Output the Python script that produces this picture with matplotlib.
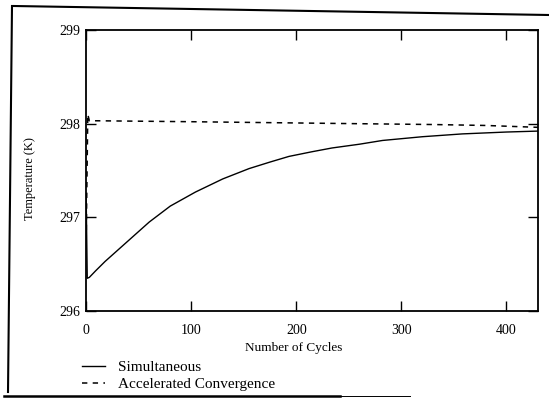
import numpy as np
import matplotlib.pyplot as plt
from matplotlib.lines import Line2D

# --- Data ---
sim_cycles = [0, 1, 3, 9, 18, 28, 45, 60, 80, 104, 130, 155, 175, 193, 215, 234,
              260, 282, 320, 358, 400, 430]
sim_temp = [297.2, 296.35, 296.36, 296.43, 296.53, 296.63, 296.8, 296.95, 297.12,
            297.27, 297.41, 297.52, 297.59, 297.65, 297.70, 297.74, 297.78,
            297.82, 297.86, 297.89, 297.91, 297.92]

acc_cycles = [0, 1.5, 3, 10, 100, 250, 330, 380, 430]
acc_temp = [296.75, 298.1, 298.03, 298.03, 298.02, 298.0, 297.99, 297.98, 297.96]

x_ticks = [0, 100, 200, 300, 400]
y_ticks = [296, 297, 298, 299]

plt.rcParams['font.family'] = ['Liberation Serif', 'DejaVu Serif']

fig = plt.figure(figsize=(5.49, 4.03), dpi=100)
ax = fig.add_axes([0.157, 0.228, 0.823, 0.698])

ax.plot(sim_cycles, sim_temp, color='black', lw=1.0, label='Simultaneous')
ax.plot(acc_cycles, acc_temp, color='black', lw=1.1, dashes=(3.5, 3.5),
        label='Accelerated Convergence')

ax.set_xlim(0, 430)
ax.set_ylim(296, 299)
ax.set_xticks(x_ticks)
ax.set_yticks(y_ticks)
ax.tick_params(direction='in', length=7, width=1.0, labelsize=10,
               top=True, right=True)
ax.tick_params(axis='x', pad=9)
ax.tick_params(axis='y', pad=4)
for s in ax.spines.values():
    s.set_linewidth(1.3)

ax.set_xlabel('Number of Cycles', fontsize=9.5)
ax.xaxis.set_label_coords(0.46, -0.11)
ax.set_ylabel('Temperature (K)', fontsize=9)
ax.yaxis.set_label_coords(-0.11, 0.47)

fig.legend(loc='upper left', bbox_to_anchor=(0.125, 0.14), frameon=False,
           fontsize=11, handlelength=1.5, handletextpad=0.8, labelspacing=0.22)

# scanned outer frame
W, H = 549, 403
def px(x0, y0, x1, y1, lw=1.5):
    fig.add_artist(Line2D([x0 / W, x1 / W], [1 - y0 / H, 1 - y1 / H],
                          transform=fig.transFigure, color='black', lw=lw))
px(14, 6, 549, 15)
px(12, 6, 8, 392)
px(4, 396, 340, 396, lw=1.8)
px(340, 396, 410, 396, lw=0.7)

fig.savefig('out.png', dpi=100)
